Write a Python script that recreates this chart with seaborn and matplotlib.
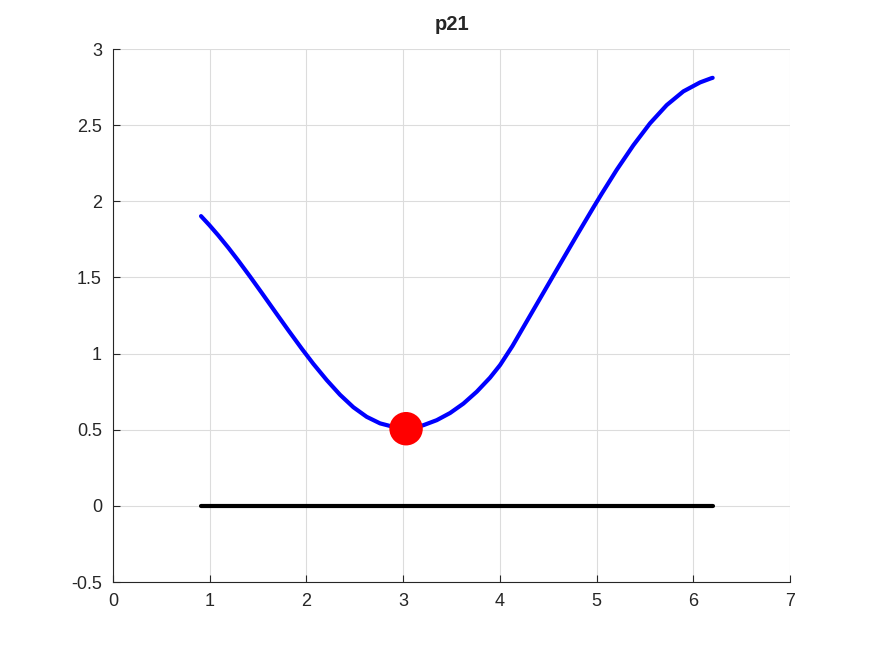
import matplotlib
matplotlib.use("Agg")
import matplotlib.pyplot as plt
import seaborn as sns
import pandas as pd

# ---------------------------------------------------------------------------
# Data
# ---------------------------------------------------------------------------
curve_x = [0.910, 0.996, 1.089, 1.193, 1.296, 1.417, 1.538, 1.675, 1.813,
           1.951, 2.071, 2.210, 2.347, 2.485, 2.623, 2.761, 2.882, 2.960,
           3.030, 3.100, 3.209, 3.347, 3.485, 3.623, 3.761, 3.898, 4.002,
           4.130, 4.278, 4.450, 4.622, 4.795, 4.967, 5.053, 5.208, 5.380,
           5.552, 5.725, 5.897, 6.070, 6.184, 6.200]
curve_y = [1.903, 1.844, 1.776, 1.695, 1.610, 1.506, 1.399, 1.276, 1.153,
           1.033, 0.933, 0.826, 0.730, 0.648, 0.585, 0.542, 0.522, 0.513,
           0.510, 0.513, 0.530, 0.563, 0.610, 0.672, 0.750, 0.842, 0.925,
           1.050, 1.212, 1.400, 1.588, 1.776, 1.960, 2.050, 2.207, 2.368,
           2.512, 2.632, 2.722, 2.781, 2.808, 2.811]
base_x = [0.91, 6.20]
base_y = [0.0, 0.0]
min_x = [3.03]
min_y = [0.507]

x_ticks = [0, 1, 2, 3, 4, 5, 6, 7]
y_ticks = [-0.5, 0, 0.5, 1, 1.5, 2, 2.5, 3]
y_labels = ["-0.5", "0", "0.5", "1", "1.5", "2", "2.5", "3"]

curve = pd.DataFrame({"x": curve_x, "y": curve_y})
base = pd.DataFrame({"x": base_x, "y": base_y})
point = pd.DataFrame({"x": min_x, "y": min_y})

# ---------------------------------------------------------------------------
# Plot
# ---------------------------------------------------------------------------
sns.set_style("white")
plt.rcParams["font.family"] = ["Liberation Sans", "DejaVu Sans"]

fig = plt.figure(figsize=(8.72, 6.54), dpi=100)
ax = fig.add_axes([0.1296, 0.110, 0.7764, 0.815])

sns.lineplot(data=curve, x="x", y="y", sort=False, estimator=None,
             color="#0000ff", lw=3, ax=ax)
sns.lineplot(data=base, x="x", y="y", sort=False, estimator=None,
             color="black", lw=3, ax=ax)
sns.scatterplot(data=point, x="x", y="y", color="#ff0000", s=580,
                edgecolor="none", ax=ax, zorder=5)

ax.set_xlim(0, 7)
ax.set_ylim(-0.5, 3)
ax.set_xticks(x_ticks)
ax.set_yticks(y_ticks)
ax.set_yticklabels(y_labels)
ax.set_xlabel("")
ax.set_ylabel("")
ax.grid(True, color="#dcdcdc", lw=0.8)
ax.set_axisbelow(True)
for side in ["top", "right"]:
    ax.spines[side].set_visible(False)
for side in ["left", "bottom"]:
    ax.spines[side].set_color("#262626")
    ax.spines[side].set_linewidth(0.8)
ax.tick_params(direction="in", length=5, labelsize=13, colors="#262626",
               left=True, bottom=True, pad=8)
ax.set_title("p21", fontsize=14.5, fontweight="bold", pad=14)

fig.savefig("out.png", dpi=100)
